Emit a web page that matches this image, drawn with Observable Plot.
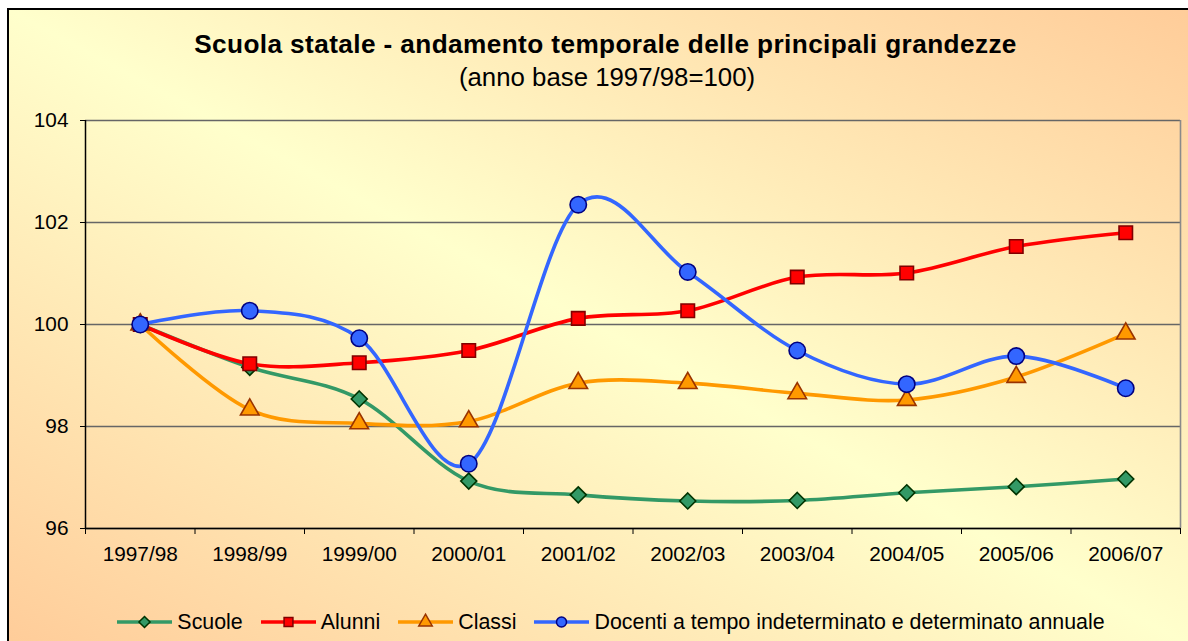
<!DOCTYPE html>
<html><head><meta charset="utf-8">
<script src="https://cdn.jsdelivr.net/npm/d3@7"></script>
<script src="https://cdn.jsdelivr.net/npm/@observablehq/plot@0.6"></script>
<style>
html,body{margin:0;padding:0;width:1188px;height:641px;overflow:hidden;background:#fff;font-family:"Liberation Sans",Arial,sans-serif;}
#bg{position:absolute;left:7px;top:8px;width:1190px;height:640px;border-left:2px solid #000;border-top:2px solid #000;background:linear-gradient(to top right,#FFCC99 0%,#FFFFCC 50%,#FFCC99 100%);}
#title{position:absolute;left:0;width:1211px;top:30px;text-align:center;font-weight:bold;font-size:26.2px;line-height:28px;color:#000;letter-spacing:0.4px;}
#subtitle{position:absolute;left:0;width:1214px;top:63px;text-align:center;font-size:25.8px;line-height:28px;color:#000;}
#plot{position:absolute;left:0;top:0;}
#legend{position:absolute;left:0;width:1222px;top:608px;display:flex;justify-content:center;align-items:center;font-size:21.4px;line-height:28px;color:#000;}
.item{display:flex;align-items:center;margin:0 9px;}
.item svg{margin-right:5px;}
</style></head>
<body>
<div id="bg"></div>
<div id="title">Scuola statale - andamento temporale delle principali grandezze</div>
<div id="subtitle">(anno base 1997/98=100)</div>
<div id="plot"></div>
<div id="legend"></div>
<script>
const years = ["1997/98","1998/99","1999/00","2000/01","2001/02","2002/03","2003/04","2004/05","2005/06","2006/07"];
const seriesNames = ["Scuole","Alunni","Classi","Docenti a tempo indeterminato e determinato annuale"];
const scuole  = [100, 99.16, 98.54, 96.93, 96.66, 96.54, 96.55, 96.70, 96.82, 96.97];
const alunni  = [100, 99.23, 99.25, 99.49, 100.12, 100.27, 100.93, 101.01, 101.53, 101.80];
const classi  = [100, 98.33, 98.06, 98.10, 98.85, 98.85, 98.65, 98.52, 98.97, 99.82];
const docenti = [100, 100.27, 99.73, 97.27, 102.35, 101.03, 99.49, 98.83, 99.38, 98.75];
const yTicks = [96, 98, 100, 102, 104];

const styles = [
  {line:"#339966", fill:"#339966", stroke:"#003300", symbol:"diamond2", r:7.2},
  {line:"#FF0000", fill:"#FF0000", stroke:"#800000", symbol:"square", r:7.6},
  {line:"#FF9900", fill:"#FF9900", stroke:"#993300", symbol:"triangle", r:6.9},
  {line:"#3366FF", fill:"#3366FF", stroke:"#000080", symbol:"circle", r:8.2}
];
const values = [scuole, alunni, classi, docenti];
const data = values.map((vals, s) => vals.map((v, i) => ({s, i, v})));

const marks = [
  Plot.gridY(yTicks, {stroke:"#666666", strokeOpacity:1, strokeWidth:1.6}),
  Plot.ruleX([9.5], {stroke:"#8a8a8a", strokeWidth:1.6}),
  Plot.axisY(yTicks, {tickSize:5, tickPadding:12, fontSize:20.8, stroke:"#000", color:"#000", tickFormat:d=>d, label:null}),
  Plot.axisX(d3.range(11).map(i=>i-0.5), {tickSize:6, tickFormat:()=>"", stroke:"#000", label:null}),
  Plot.axisX(d3.range(10), {tickSize:0, tickPadding:18, fontSize:20.8, tickFormat:i=>years[i], color:"#000", label:null}),
  Plot.ruleX([-0.5], {stroke:"#000", strokeWidth:1.5}),
  Plot.ruleY([96], {stroke:"#000", strokeWidth:1.5})
];
data.forEach((d, s) => {
  const st = styles[s];
  marks.push(Plot.line(d, {x:"i", y:"v", stroke:st.line, strokeWidth:3.6, curve:"cardinal"}));
  marks.push(Plot.dot(d, {x:"i", y:"v", symbol:()=>st.symbol, r:st.r, fill:st.fill, stroke:st.stroke, strokeWidth:1.6}));
});

const chart = Plot.plot({
  width:1188, height:580,
  marginLeft:85, marginRight:8, marginTop:120, marginBottom:52,
  style:{background:"transparent", fontFamily:"'Liberation Sans', Arial, sans-serif", color:"#000"},
  x:{type:"linear", domain:[-0.5, 9.5], label:null},
  y:{domain:[96, 104], label:null},
  symbol:{type:"identity"},
  marks
});
document.getElementById("plot").appendChild(chart);

// legend
const legend = document.getElementById("legend");
const symMap = {diamond2:d3.symbolDiamond2, square:d3.symbolSquare, triangle:d3.symbolTriangle, circle:d3.symbolCircle};
seriesNames.forEach((name, s) => {
  const st = styles[s];
  const item = document.createElement("div");
  item.className = "item";
  const ns = "http://www.w3.org/2000/svg";
  const svg = document.createElementNS(ns, "svg");
  svg.setAttribute("width", 55); svg.setAttribute("height", 20);
  const ln = document.createElementNS(ns, "line");
  ln.setAttribute("x1", 0); ln.setAttribute("x2", 55); ln.setAttribute("y1", 10); ln.setAttribute("y2", 10);
  ln.setAttribute("stroke", st.line); ln.setAttribute("stroke-width", 3.6);
  svg.appendChild(ln);
  const p = document.createElementNS(ns, "path");
  p.setAttribute("d", d3.symbol(symMap[st.symbol], Math.PI*5*5)());
  p.setAttribute("transform", "translate(27.5,10)");
  p.setAttribute("fill", st.fill); p.setAttribute("stroke", st.stroke); p.setAttribute("stroke-width", 1.5);
  svg.appendChild(p);
  item.appendChild(svg);
  const t = document.createElement("span");
  t.textContent = name;
  item.appendChild(t);
  legend.appendChild(item);
});
</script>
</body></html>
